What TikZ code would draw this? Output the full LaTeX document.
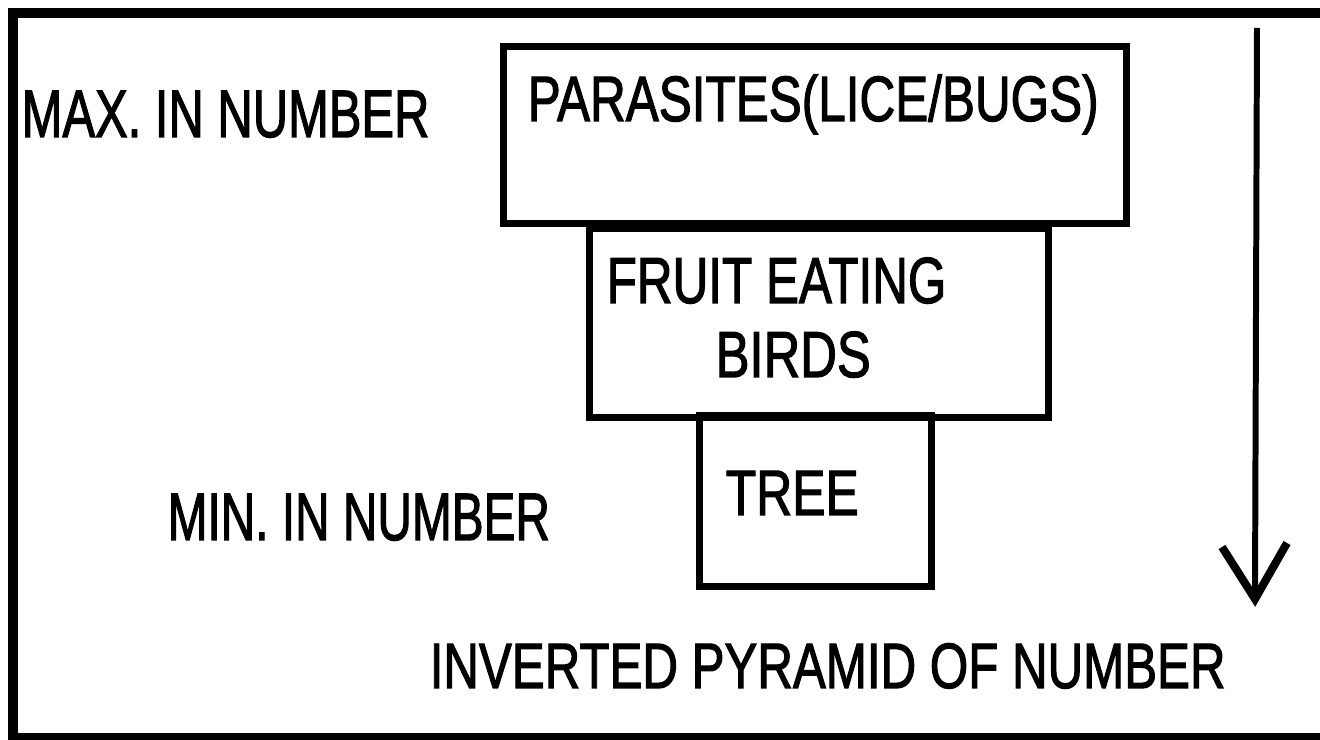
\documentclass[tikz,border=0pt]{standalone}
\usepackage{fontspec}
\usepackage{graphicx}
\setmainfont{Liberation Sans}
% caption face: regular sans, slightly emboldened
\newfontfamily\capfont[FakeBold=2]{Liberation Sans}
% condensed caption text: horizontal squeeze only
\newcommand{\narrowtext}[2]{\scalebox{#1}[1]{\capfont #2}}
\begin{document}
\begin{tikzpicture}[x=0.01cm,y=-0.01cm,
  tier/.style={draw=black, line width=2pt, rectangle, inner sep=0pt},
  caption/.style={anchor=base west, inner sep=0pt, text=black},
  sizeL/.style={font=\fontsize{19.06}{22}\selectfont},
  sizeM/.style={font=\fontsize{18.5}{22}\selectfont},
  sizeS/.style={font=\fontsize{18.2}{22}\selectfont},
  shaft/.style={line width=1.7pt},
  barb/.style={line width=2.3pt, line join=miter}
]
\clip (0,0) rectangle (1320,740);
\fill[white] (0,0) rectangle (1320,740);
% outer frame
\draw[line width=2.85pt] (13,13) rectangle (1345,738);

% pyramid tiers
\node[tier, minimum width=6.22cm, minimum height=1.76cm] (parasites) at (815,135) {};
\node[tier, minimum width=4.58cm, minimum height=1.88cm] (birds) at (819,323) {};
\node[tier, minimum width=2.31cm, minimum height=1.70cm] (tree) at (815.5,501) {};

% tier captions
\node[caption, sizeS] (parlbl) at (527,121) {\narrowtext{0.773}{PARASITES(LICE/BUGS)}};
\node[caption, sizeM] (birdlblA) at (606,303) {\narrowtext{0.76}{FRUIT EATING}};
\node[caption, sizeM] (birdlblB) at (715,377) {\narrowtext{0.78}{BIRDS}};
\node[caption, sizeS] (treelbl) at (725,515) {\narrowtext{0.78}{TREE}};

% side captions
\node[caption, sizeL] (maxlbl) at (21,137) {\narrowtext{0.73}{MAX. IN NUMBER}};
\node[caption, sizeL] (minlbl) at (167,540) {\narrowtext{0.713}{MIN. IN NUMBER}};
\node[caption, sizeS] (title) at (429,688) {\narrowtext{0.77}{INVERTED PYRAMID OF NUMBER}};

% downward arrow
\coordinate (atop) at (1257,28);
\coordinate (atip) at (1255,599);
\coordinate (armL) at (1222,547);
\coordinate (armR) at (1287,543);
\draw[shaft] (atop) -- (atip);
\draw[barb] (armL) -- (atip) -- (armR);
\end{tikzpicture}
\end{document}
